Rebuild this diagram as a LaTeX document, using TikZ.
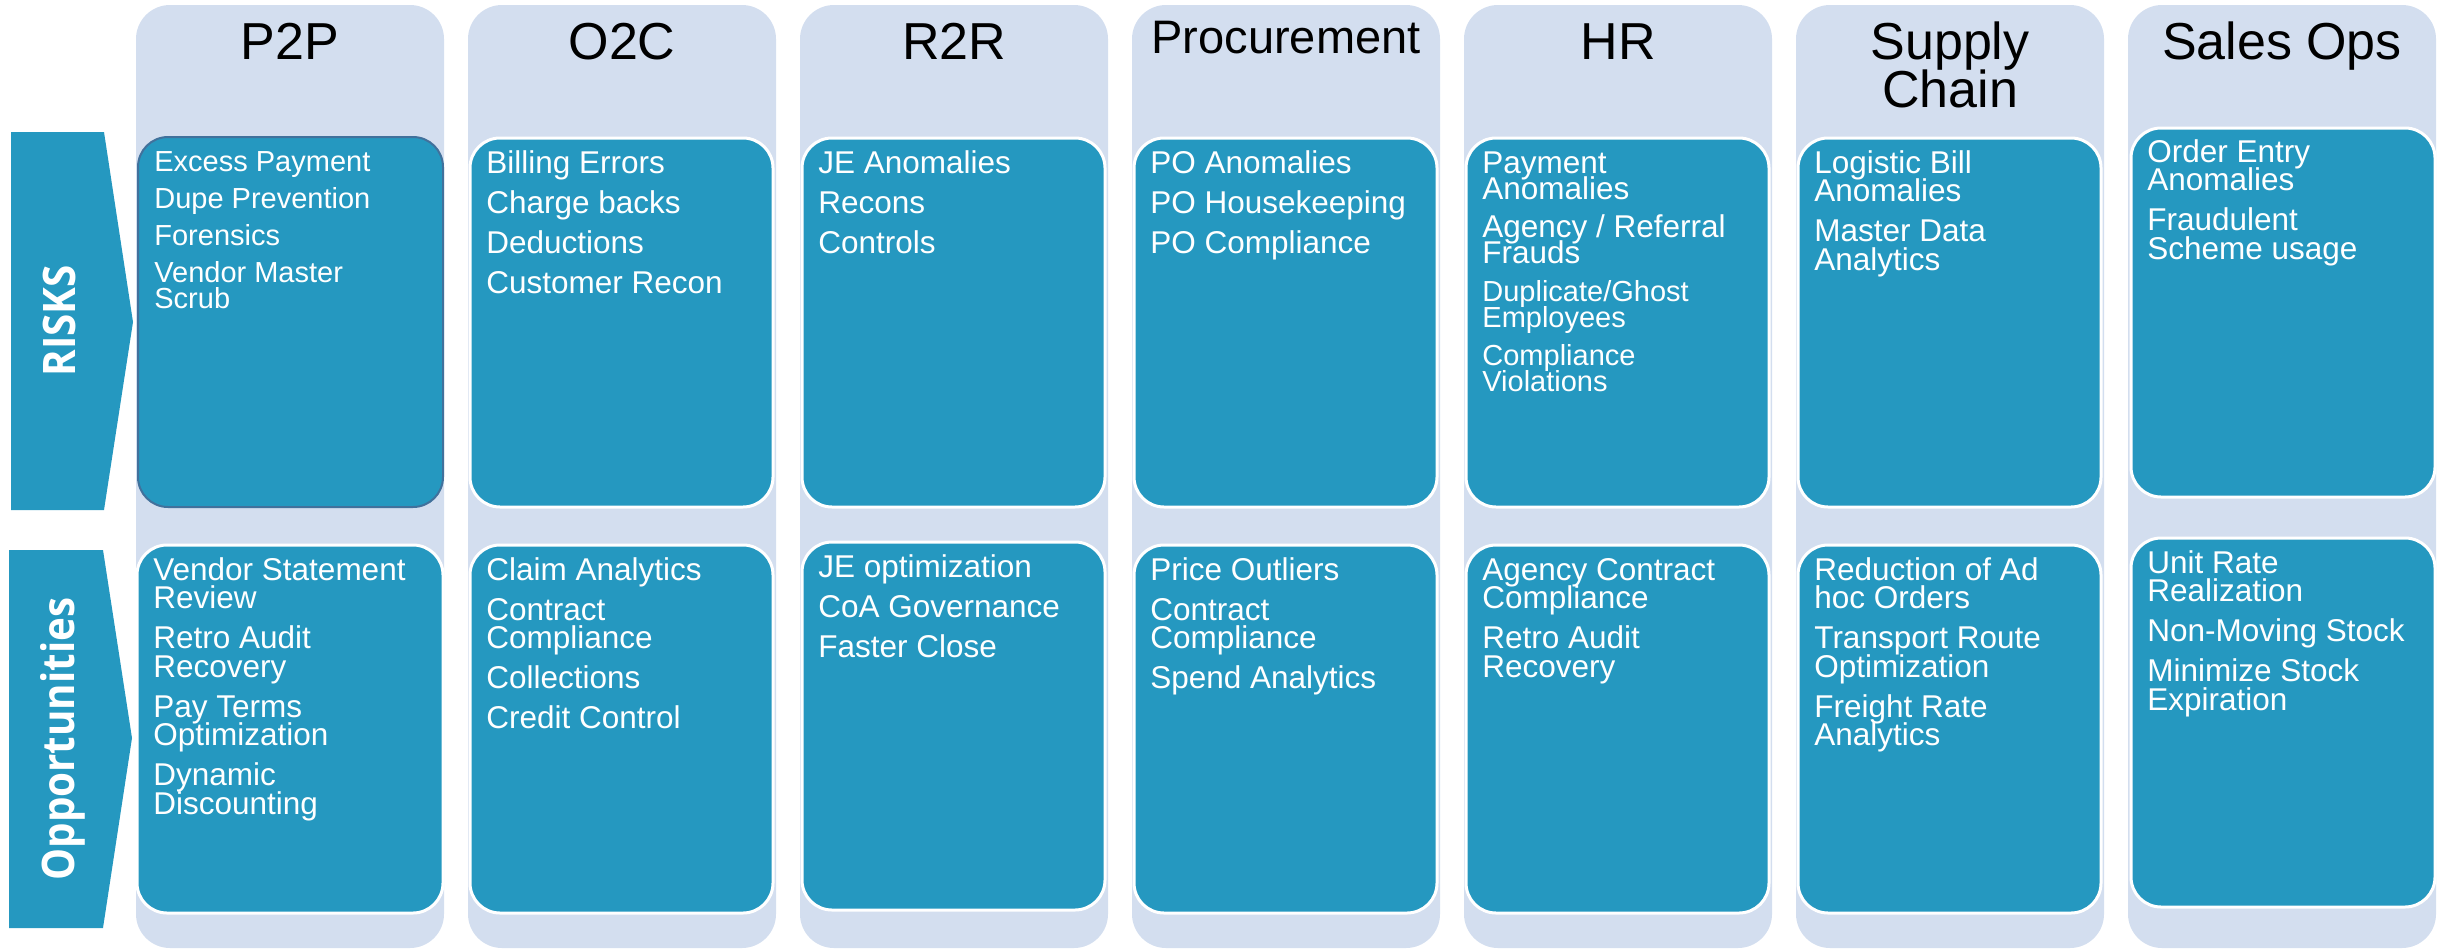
\documentclass[tikz,border=0pt]{standalone}
\usepackage{fontspec}
\setmainfont{Liberation Sans}
\newfontfamily\sidefont{Open Sans}[FakeStretch=0.9]
\definecolor{colbg}{HTML}{D3DEEF}
\definecolor{boxfill}{HTML}{2598C0}
\definecolor{p2pedge}{HTML}{41719C}
\newcommand\firstln{\rule{0pt}{0.75em}}
\newcommand\smhr{\fontsize{14.5pt}{13pt}\selectfont}
\newcommand\tight{\lineskiplimit=-100pt\lineskip=0pt}
\begin{document}
\begin{tikzpicture}[x=0.5pt,y=-0.5pt,
  colstrip/.style={fill=colbg, rounded corners=17pt},
  cell/.style={fill=boxfill, draw=white, line width=1.5pt, rounded corners=15pt},
  head/.style={anchor=north, inner sep=0pt, align=center, text=black, font=\fontsize{26pt}{24pt}\selectfont\tight},
  items/.style={anchor=north west, inner sep=0pt, align=left, text=white, font=\fontsize{15.75pt}{14.2pt}\selectfont\tight},
  side/.style={rotate=90, anchor=base, inner sep=0pt, text=white, font=\sidefont\bfseries\fontsize{22.4pt}{26pt}\selectfont}
]
\useasboundingbox (0,0) rectangle (2440,948);

% column strips
\foreach \L in {136,468,800,1132,1464,1796,2128}
  \fill[colstrip] (\L,5) rectangle (\L+308,948);

% side chevrons
\fill[boxfill] (11,132) -- (104,132) -- (133,322) -- (104,510) -- (11,510) -- cycle;
\fill[boxfill] (9,550) -- (103,550) -- (132,738) -- (103,928) -- (9,928) -- cycle;
\node[side] (risks) at (75,321) {RISKS};
\node[side] (opps) at (74,739) {Opportunities};

% headers
\node[head] (hp2p) at (290,20) {\firstln P2P};
\node[head] (ho2c) at (622,20) {\firstln O2C};
\node[head] (hr2r) at (954,20) {\firstln R2R};
\node[head, font=\fontsize{23.5pt}{22pt}\selectfont] (hproc) at (1286,17.8) {\firstln Procurement};
\node[head] (hhr) at (1618,20) {\firstln HR};
\node[head] (hsc) at (1950,20) {\firstln Supply\\Chain};
\node[head] (hso) at (2282,20) {\firstln Sales Ops};

% risk boxes
\draw[cell, draw=p2pedge, line width=1pt] (138,137) rectangle (443,507);
\draw[cell] (470,138) rectangle (773,507);
\draw[cell] (802,138) rectangle (1105,507);
\draw[cell] (1134,138) rectangle (1437,507);
\draw[cell] (1466,138) rectangle (1769,507);
\draw[cell] (1798,138) rectangle (2101,507);
\draw[cell] (2131,128) rectangle (2435,497);

% opportunity boxes
\draw[cell] (137,545) rectangle (443,913);
\draw[cell] (470,545) rectangle (773,913);
\draw[cell] (802,542) rectangle (1105,910);
\draw[cell] (1134,545) rectangle (1437,913);
\draw[cell] (1466,545) rectangle (1769,913);
\draw[cell] (1798,545) rectangle (2101,913);
\draw[cell] (2131,538) rectangle (2435,907);

% risk texts
\node[items, font=\fontsize{14.5pt}{13pt}\selectfont\tight] (rp2p) at (154,149.3)
  {\firstln Excess Payment\\[5.5pt] Dupe Prevention\\[5.5pt] Forensics\\[5.5pt] Vendor Master\\ Scrub};
\node[items] (ro2c) at (486,149.4)
  {\firstln Billing Errors\\[5.8pt] Charge backs\\[5.8pt] Deductions\\[5.8pt] Customer Recon};
\node[items] (rr2r) at (818,149.4)
  {\firstln JE Anomalies\\[5.8pt] Recons\\[5.8pt] Controls};
\node[items] (rproc) at (1150,149.4)
  {\firstln PO Anomalies\\[5.8pt] PO Housekeeping\\[5.8pt] PO Compliance};
\node[items, font=\fontsize{15.75pt}{13pt}\selectfont\tight] (rhr) at (1482,149.4)
  {\firstln Payment\\ Anomalies\\[6pt] Agency / Referral\\ Frauds\\[6pt] \smhr Duplicate/Ghost\\ \smhr Employees\\[6pt] \smhr Compliance\\ \smhr Violations};
\node[items] (rsc) at (1814,149.4)
  {\firstln Logistic Bill\\ Anomalies\\[5.8pt] Master Data\\ Analytics};
\node[items] (rso) at (2147,138.4)
  {\firstln Order Entry\\ Anomalies\\[5.8pt] Fraudulent\\ Scheme usage};

% opportunity texts
\node[items] (op2p) at (153,556.4)
  {\firstln Vendor Statement\\ Review\\[5.8pt] Retro Audit\\ Recovery\\[5.8pt] Pay Terms\\ Optimization\\[5.8pt] Dynamic\\ Discounting};
\node[items] (oo2c) at (486,556)
  {\firstln Claim Analytics\\[5.8pt] Contract\\ Compliance\\[5.8pt] Collections\\[5.8pt] Credit Control};
\node[items] (or2r) at (818,553.4)
  {\firstln JE optimization\\[5.8pt] CoA Governance\\[5.8pt] Faster Close};
\node[items] (oproc) at (1150,556)
  {\firstln Price Outliers\\[5.8pt] Contract\\ Compliance\\[5.8pt] Spend Analytics};
\node[items] (ohr) at (1482,556.4)
  {\firstln Agency Contract\\ Compliance\\[5.8pt] Retro Audit\\ Recovery};
\node[items] (osc) at (1814,556.4)
  {\firstln Reduction of Ad\\ hoc Orders\\[5.8pt] Transport Route\\ Optimization\\[5.8pt] Freight Rate\\ Analytics};
\node[items] (oso) at (2147,549.4)
  {\firstln Unit Rate\\ Realization\\[5.8pt] Non-Moving Stock\\[5.8pt] Minimize Stock\\ Expiration};
\end{tikzpicture}
\end{document}
